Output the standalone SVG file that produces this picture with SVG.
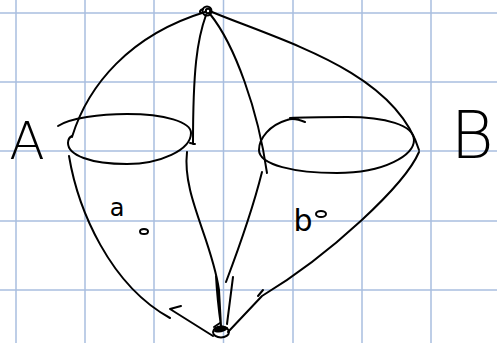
<svg xmlns="http://www.w3.org/2000/svg" width="497" height="343" viewBox="0 0 497 343">
<style>
.grid line{stroke:#a9bedf;stroke-width:1.5}
.ink{fill:none;stroke:#000;stroke-width:2;stroke-linecap:round;stroke-linejoin:round}
.lbl{font-family:"DejaVu Sans","Liberation Sans",sans-serif;font-weight:200;fill:#000;text-anchor:middle}
.sm{font-weight:normal}
</style>
<rect width="497" height="343" fill="#fff"/>
<g class="grid">
<line x1="16" y1="0" x2="16" y2="343"/><line x1="85" y1="0" x2="85" y2="343"/><line x1="154" y1="0" x2="154" y2="343"/><line x1="223.5" y1="0" x2="223.5" y2="343"/><line x1="293" y1="0" x2="293" y2="343"/><line x1="362" y1="0" x2="362" y2="343"/><line x1="431" y1="0" x2="431" y2="343"/>
<line x1="0" y1="13" x2="497" y2="13"/><line x1="0" y1="82" x2="497" y2="82"/><line x1="0" y1="151" x2="497" y2="151"/><line x1="0" y1="221" x2="497" y2="221"/><line x1="0" y1="290" x2="497" y2="290"/>
</g>
<g id="connectors" class="ink">
<path d="M205,12 C130,35 88,85 72,137"/>
<path d="M69,156 C78,210 110,285 170,318"/>
<path d="M181,306 L170,309 L213,336"/>
<path d="M206,15 C197,40 193,70 193,144 M190,143 L195,144"/>
<path d="M187,152 C182,195 212,240 219,290 L221,326 M216,276 C217,295 219,312 221,326"/>
<path d="M210,14 C235,45 258,110 267,173"/>
<path d="M262,172 C255,200 240,245 226,282 M233,277 L227,324"/>
<path d="M212,12 C285,42 395,72 419,150"/>
<path d="M419,152 C405,185 330,255 262,296 L228,332 M258,296 L263,290"/>
</g>
<g id="nodeTop" class="ink">
<circle cx="207" cy="11" r="4.5"/><circle cx="208" cy="11" r="2.2"/>
<path d="M203,9 C200,10 199,12 201,13"/>
</g>
<g id="nodeBottom" class="ink">
<ellipse cx="221" cy="332" rx="8" ry="5.5"/>
<path d="M215,331 C216,327 222,325 227,328 C224,331 219,332 215,331 Z" fill="#000"/>
<path d="M214,327 L220,323"/>
</g>
<g id="regionA" class="ink">
<path d="M58,126 C70,118 100,114 127,114 C165,114 191,122 191,133 C191,150 160,164 127,164 C90,164 68,155 68,143 C68,140 70,137 72,136"/>
</g>
<g id="regionB" class="ink">
<path d="M305,122 C298,119 292,118 287,120 C270,125 259,138 259,150 C259,165 295,173 337,173 C385,173 414,155 414,140 C414,125 385,117 347,117 C325,117 305,117 290,118"/>
</g>
<g id="labelA"><text class="lbl" x="27" y="159" font-size="52">A</text></g>
<g id="labelB"><text class="lbl" x="472" y="158" font-size="66">B</text></g>
<g id="labela"><text class="lbl sm" x="117" y="216" font-size="24">a</text>
<ellipse class="ink" cx="144" cy="231.5" rx="4" ry="2.5" stroke-width="3"/></g>
<g id="labelb"><text class="lbl sm" x="303" y="231" font-size="30">b</text>
<ellipse class="ink" cx="321" cy="214" rx="5" ry="3" stroke-width="3"/></g>
</svg>
